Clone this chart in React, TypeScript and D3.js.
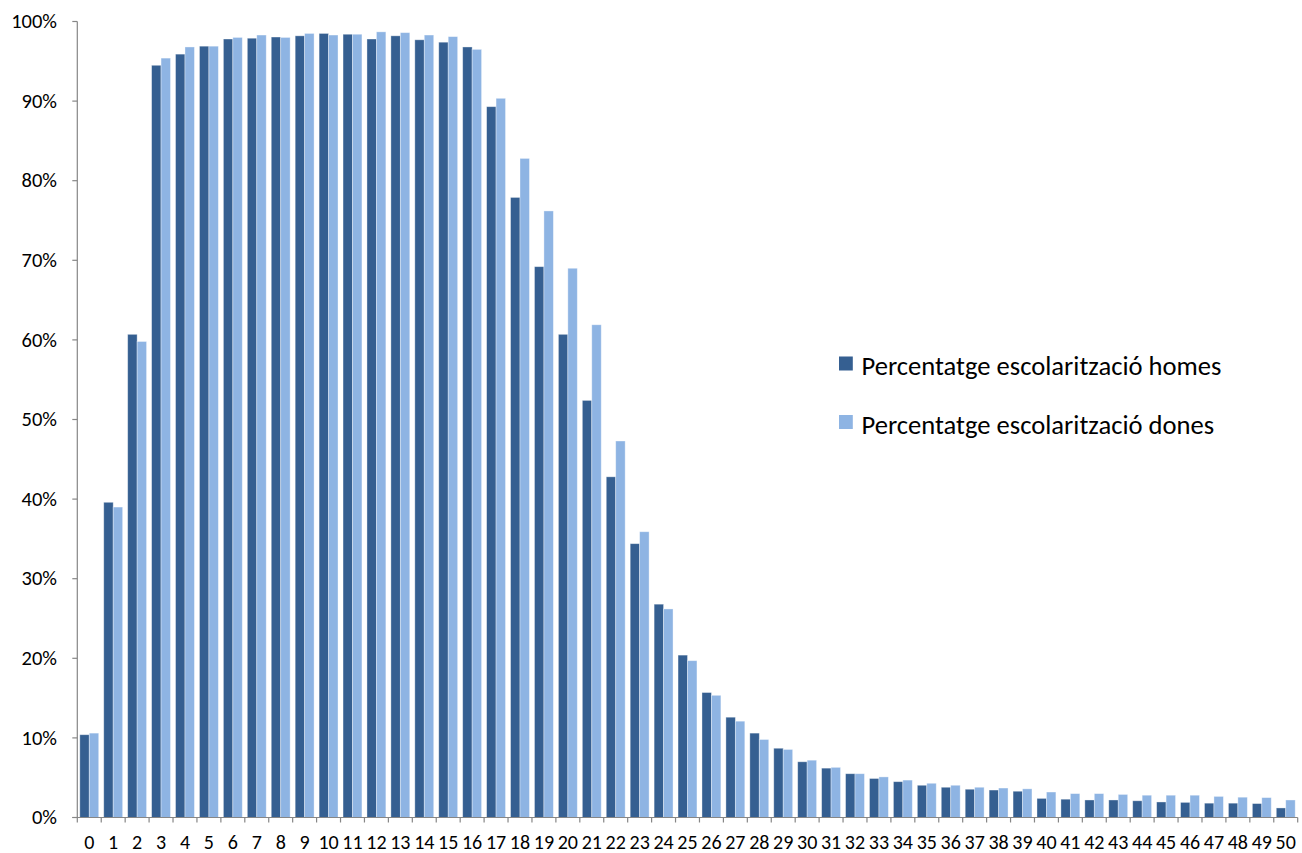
import React from "react";
import * as d3 from "d3";

const categories: string[] = Array.from({ length: 51 }, (_, i) => String(i));

const homes: number[] = [
  10.4, 39.6, 60.7, 94.5, 95.9, 96.9, 97.8, 97.9, 98.05, 98.2,
  98.5, 98.4, 97.8, 98.2, 97.7, 97.4, 96.8, 89.3, 77.9, 69.2,
  60.7, 52.4, 42.8, 34.4, 26.8, 20.4, 15.7, 12.6, 10.6, 8.7,
  7.0, 6.2, 5.5, 4.9, 4.5, 4.05, 3.8, 3.55, 3.45, 3.3,
  2.4, 2.3, 2.2, 2.2, 2.1, 1.95, 1.9, 1.8, 1.8, 1.75,
  1.2,
];

const dones: number[] = [
  10.6, 39.0, 59.8, 95.4, 96.8, 96.9, 98.0, 98.3, 98.0, 98.5,
  98.3, 98.4, 98.7, 98.6, 98.3, 98.1, 96.5, 90.35, 82.8, 76.2,
  69.0, 61.9, 47.3, 35.9, 26.2, 19.7, 15.35, 12.1, 9.8, 8.55,
  7.2, 6.3, 5.5, 5.1, 4.7, 4.3, 4.05, 3.8, 3.7, 3.6,
  3.2, 3.0, 3.0, 2.9, 2.8, 2.8, 2.8, 2.65, 2.55, 2.5,
  2.2,
];

const seriesNames: string[] = [
  "Percentatge escolarització homes",
  "Percentatge escolarització dones",
];
const seriesColors: string[] = ["#355F91", "#8EB4E3"];
const yTicks: number[] = [0, 10, 20, 30, 40, 50, 60, 70, 80, 90, 100];

export default function App() {
  const width = 1302;
  const height = 853;
  const left = 77.3;
  const right = 1297.7;
  const top = 21.5;
  const bottom = 817.5;
  const font = "Carlito, Calibri, 'Noto Sans', sans-serif";

  const x0 = d3
    .scaleBand<string>()
    .domain(categories)
    .range([left, right])
    .paddingInner(0.21)
    .paddingOuter(0.105);
  const x1 = d3
    .scaleBand<number>()
    .domain([0, 1])
    .range([0, x0.bandwidth()]);
  const y = d3.scaleLinear().domain([0, 100]).range([bottom, top]);

  const data = [homes, dones];
  const step = x0.step();
  const axisColor = "#868686";

  return (
    <svg
      width={width}
      height={height}
      style={{ position: "absolute", left: 0, top: 0, background: "#fff" }}
    >
      {data.map((vals, s) =>
        vals.map((v, i) => (
          <rect
            key={`${s}-${i}`}
            x={(x0(categories[i]) as number) + (x1(s) as number)}
            y={y(v)}
            width={x1.bandwidth()}
            height={bottom - y(v)}
            fill={seriesColors[s]}
            stroke="#ffffff"
            strokeOpacity={0.45}
            strokeWidth={0.8}
          />
        ))
      )}
      {/* y axis */}
      <line x1={left} x2={left} y1={top} y2={bottom} stroke={axisColor} strokeWidth={1.2} />
      {yTicks.map((t) => (
        <g key={t}>
          <line x1={left - 5} x2={left} y1={y(t)} y2={y(t)} stroke={axisColor} strokeWidth={1.2} />
          <text
            x={57}
            y={y(t)}
            dy="0.33em"
            textAnchor="end"
            fontFamily={font}
            fontSize={20.5}
            fill="#000"
          >
            {t}%
          </text>
        </g>
      ))}
      {/* x axis */}
      <line x1={left - 5} x2={right} y1={bottom} y2={bottom} stroke={axisColor} strokeWidth={1.2} />
      {d3.range(categories.length + 1).map((k) => (
        <line
          key={k}
          x1={left + k * step}
          x2={left + k * step}
          y1={bottom}
          y2={bottom + 5}
          stroke={axisColor}
          strokeWidth={1.2}
        />
      ))}
      {categories.map((c) => (
        <text
          key={c}
          x={(x0(c) as number) + x0.bandwidth() / 2}
          y={849}
          textAnchor="middle"
          fontFamily={font}
          fontSize={20}
          fill="#000"
        >
          {c}
        </text>
      ))}
      {/* legend */}
      {seriesNames.map((n, s) => (
        <g key={n} transform={`translate(839, ${356.5 + s * 58.5})`}>
          <rect width={13.8} height={14} fill={seriesColors[s]} />
          <text x={22.5} y={18.5} fontFamily={font} fontSize={26.6} fill="#000">
            {n}
          </text>
        </g>
      ))}
    </svg>
  );
}
